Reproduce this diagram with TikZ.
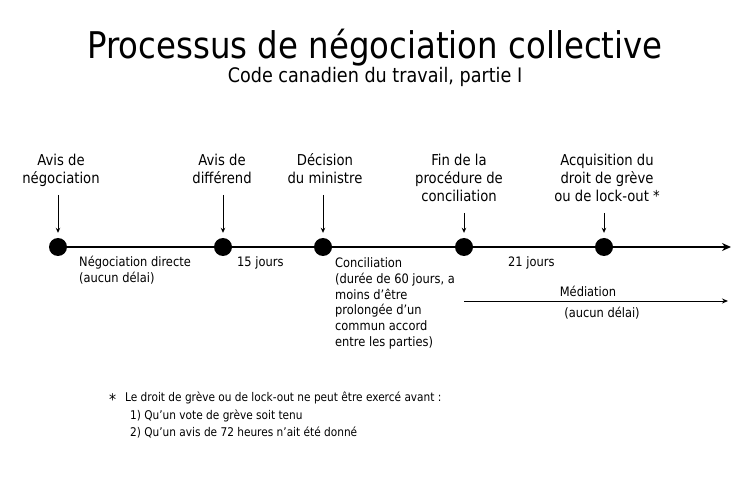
\documentclass[tikz,border=0pt]{standalone}
\usepackage{fontspec}
\setmainfont{DejaVu Sans}[FakeStretch=0.88]
\usetikzlibrary{arrows.meta}
\begin{document}
\begin{tikzpicture}[x=1bp,y=-1bp,
  titlefont/.style={font=\fontsize{36.8bp}{40bp}\selectfont, inner sep=0, anchor=base},
  subfont/.style={font=\fontsize{20bp}{22bp}\selectfont, inner sep=0, anchor=base},
  lbl/.style={font=\fontsize{15bp}{18bp}\selectfont, align=center, inner sep=0, anchor=base},
  under/.style={font=\fontsize{13bp}{15.6bp}\selectfont, align=left, inner sep=0, anchor=base west},
  notefont/.style={font=\fontsize{12bp}{17bp}\selectfont, align=left, inner sep=0, anchor=base west},
  dot/.style={circle, fill=black, minimum size=18bp, inner sep=0},
  tick/.style={-{Stealth[length=5bp,width=4.5bp]}, line width=0.8bp},
  axis/.style={line width=2bp, -{Stealth[length=9bp,width=8bp]}},
  thinarrow/.style={line width=0.9bp, -{Stealth[length=6bp,width=5bp]}}]
\useasboundingbox (0,0) rectangle (750,484);
\fill[white] (0,0) rectangle (750,484);

\node[titlefont] (title) at (375,59) {Processus de négociation collective};
\node[subfont] (subtitle) at (375,83) {Code canadien du travail, partie I};

% timeline
\coordinate (tstart) at (58,247);
\coordinate (tend) at (731,247);
\draw[axis] (tstart) -- (tend);
\node[dot] (d1) at (58,247) {};
\node[dot] (d2) at (223,247) {};
\node[dot] (d3) at (323,247) {};
\node[dot] (d4) at (464,247) {};
\node[dot] (d5) at (604,247) {};

% top labels (anchor = baseline of last line)
\node[lbl] (l1) at (61,184) {Avis de\\négociation};
\node[lbl] (l2) at (222,184) {Avis de\\différend};
\node[lbl] (l3) at (325,184) {Décision\\du ministre};
\node[lbl] (l4) at (459,202) {Fin de la\\procédure de\\conciliation};
\node[lbl] (l5) at (607,202) {Acquisition du\\droit de grève\\ou de lock-out *};

% downward ticks
\coordinate (a1) at (58,195);
\coordinate (a2) at (223,195);
\coordinate (a3) at (323,195);
\coordinate (a4) at (464,213);
\coordinate (a5) at (604,213);
\draw[tick] (a1) -- ([yshift=5bp]d1.north);
\draw[tick] (a2) -- ([yshift=5bp]d2.north);
\draw[tick] (a3) -- ([yshift=5bp]d3.north);
\draw[tick] (a4) -- ([yshift=5bp]d4.north);
\draw[tick] (a5) -- ([yshift=5bp]d5.north);

% under labels
\node[under] (u1) at (79,282.6) {Négociation directe\\(aucun délai)};
\node[under] (u2) at (237,267) {15 jours};
\node[under] (u3) at (335,346) {Conciliation\\(durée de 60 jours, a\\moins d’être\\prolongée d’un\\commun accord\\entre les parties)};
\node[under] (u4) at (508,267) {21 jours};

% mediation
\coordinate (m1) at (464,301);
\coordinate (m2) at (728,301);
\draw[thinarrow] (m1) -- (m2);
\node[font=\fontsize{13bp}{15.6bp}\selectfont, inner sep=0, anchor=base] (med) at (588,297) {Médiation};
\node[font=\fontsize{13bp}{15.6bp}\selectfont, inner sep=0, anchor=base] (med2) at (602,317) {(aucun délai)};

% footnote
\node[font=\fontsize{16bp}{17bp}\selectfont, inner sep=0, anchor=base west] (star) at (109,405) {*};
\node[notefont] (n1) at (125,401) {Le droit de grève ou de lock-out ne peut être exercé avant :};
\node[notefont] (n2) at (130,436) {1) Qu’un vote de grève soit tenu\\2) Qu’un avis de 72 heures n’ait été donné};
\end{tikzpicture}
\end{document}
